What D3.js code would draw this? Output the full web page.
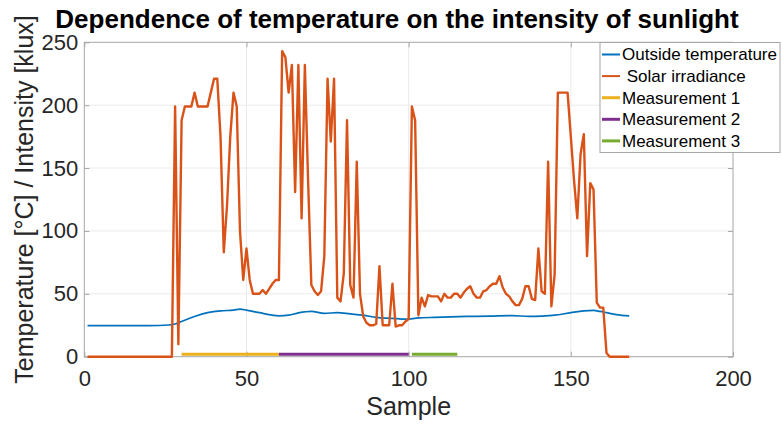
<!DOCTYPE html>
<meta charset="utf-8">
<script src="https://d3js.org/d3.v7.min.js"></script>
<style>
  body { margin: 0; background: #fff; }
  text { font-family: "Liberation Sans", Arial, sans-serif; }
</style>
<div id="chart"></div>
<script>

  // solar irradiance, one value per sample (1..168)
  var solar = [
    0,0,0,0,0,0,0,0,0,0, 0,0,0,0,0,0,0,0,0,0, 0,0,0,0,0,0,0,
    199,10,188,199,199,199,210,199,199,199,199,210,221,221,175,83,120,175,210,199,100,61,86,61,
    50,50,50,53,50,54,58,61,61,243,238,210,232,131,232,110,232,140,57,52,49,52,80,221,171,221,
    47,44,66,188,57,47,155,50,32,27,25,25,26,72,25,25,25,58,24,25,25,28,30,199,188,33,
    47,40,49,48,48,48,44,50,47,47,50,50,47,51,54,56,50,47,47,52,53,56,58,58,64,55,
    50,48,44,41,41,46,56,56,46,45,86,52,50,155,40,65,210,210,210,210,175,140,110,161,177,80,
    138,133,43,39,39,3,0,0,0,0,0,0,0
  ];

  // outside temperature, read at these samples
  var tempSamples = [1, 10, 20, 26, 28, 30, 34, 38, 42, 46, 48, 50, 54, 58, 60, 63, 66, 70, 74, 78,
                     82, 86, 90, 95, 99, 103, 108, 118, 125, 132, 137, 141, 145, 150, 154, 157, 159, 161, 164, 168];
  var tempValues  = [24.7, 24.7, 24.7, 25.2, 26, 28, 32, 35, 36.5, 37, 37.8, 37, 35, 33, 32.5, 33, 34.8, 36, 34.5, 35,
                     34, 33, 31.3, 30.5, 29.8, 30.8, 31.3, 32, 32.3, 32.7, 32, 32.3, 33, 35, 36.4, 36.8, 36, 35, 33.5, 32.4];

  // measurement periods (start, end sample)
  var measNames  = ["Measurement 1", "Measurement 2", "Measurement 3"];
  var measStart  = [30, 60, 101];
  var measEnd    = [60, 100, 115];
  var measLevel  = 2;

  var xTicks = [0, 50, 100, 150, 200];
  var yTicks = [0, 50, 100, 150, 200, 250];

  var colors = {temp: "#0072BD", solar: "#D95319", meas: ["#EDB120", "#7E2F8E", "#77AC30"]};

  var W = 782, H = 424;
  var m = {left: 84.3, right: 733, top: 42.3, bottom: 356.7};

  var svg = d3.select("#chart").append("svg")
      .attr("width", W).attr("height", H);

  svg.append("rect").attr("width", W).attr("height", H).attr("fill", "#fff");

  var x = d3.scaleLinear().domain([0, 200]).range([m.left, m.right]);
  var y = d3.scaleLinear().domain([0, 250]).range([m.bottom, m.top]);

  // grid
  svg.append("g").selectAll("line").data(xTicks.slice(1, -1)).enter().append("line")
      .attr("x1", d => x(d)).attr("x2", d => x(d))
      .attr("y1", m.top).attr("y2", m.bottom)
      .attr("stroke", "#ebebeb").attr("stroke-width", 1);
  svg.append("g").selectAll("line").data(yTicks.slice(1, -1)).enter().append("line")
      .attr("x1", m.left).attr("x2", m.right)
      .attr("y1", d => y(d)).attr("y2", d => y(d))
      .attr("stroke", "#ebebeb").attr("stroke-width", 1);

  // axes
  svg.append("g")
      .attr("transform", "translate(0," + m.bottom + ")")
      .call(d3.axisBottom(x).tickValues(xTicks).tickSize(-5).tickPadding(14));
  svg.append("g")
      .attr("transform", "translate(" + m.left + ",0)")
      .call(d3.axisLeft(y).tickValues(yTicks).tickSize(-5).tickPadding(6));
  svg.append("g")
      .attr("transform", "translate(0," + m.top + ")")
      .call(d3.axisTop(x).tickValues(xTicks).tickSize(-5).tickFormat(""));
  svg.append("g")
      .attr("transform", "translate(" + m.right + ",0)")
      .call(d3.axisRight(y).tickValues(yTicks).tickSize(-5).tickFormat(""));

  svg.selectAll(".domain").remove();
  svg.selectAll(".tick line").attr("stroke", "#a6a6a6");
  svg.selectAll(".tick text").attr("fill", "#262626").style("font-size", "22px")
      .style("font-family", "'Liberation Sans', Arial, sans-serif");

  svg.append("rect")
      .attr("x", m.left).attr("y", m.top)
      .attr("width", m.right - m.left).attr("height", m.bottom - m.top)
      .attr("fill", "none").attr("stroke", "#a6a6a6").attr("stroke-width", 1);

  // lines
  var tempLine = d3.line()
      .x((d, i) => x(tempSamples[i]))
      .y(d => y(d))
      .curve(d3.curveMonotoneX);
  svg.append("path").datum(tempValues)
      .attr("d", tempLine)
      .attr("fill", "none").attr("stroke", colors.temp).attr("stroke-width", 1.7);

  var solarLine = d3.line()
      .x((d, i) => x(i + 1))
      .y(d => y(d));
  svg.append("path").datum(solar)
      .attr("d", solarLine)
      .attr("fill", "none").attr("stroke", colors.solar).attr("stroke-width", 2.4)
      .attr("stroke-linejoin", "round");

  svg.append("g").selectAll("line").data(measNames).enter().append("line")
      .attr("x1", (d, i) => x(measStart[i])).attr("x2", (d, i) => x(measEnd[i]))
      .attr("y1", y(measLevel)).attr("y2", y(measLevel))
      .attr("stroke", (d, i) => colors.meas[i]).attr("stroke-width", 3);

  // title and labels
  svg.append("text")
      .attr("x", 397).attr("y", 28)
      .attr("text-anchor", "middle")
      .style("font-size", "26px").style("font-weight", "bold")
      .text("Dependence of temperature on the intensity of sunlight");

  svg.append("text")
      .attr("x", (m.left + m.right) / 2).attr("y", 415)
      .attr("text-anchor", "middle")
      .attr("fill", "#262626")
      .style("font-size", "25px")
      .text("Sample");

  svg.append("text")
      .attr("transform", "translate(33," + (m.top + m.bottom) / 2 + ") rotate(-90)")
      .attr("text-anchor", "middle")
      .attr("fill", "#262626")
      .style("font-size", "25px")
      .text("Temperature [°C] / Intensity [klux]");

  // legend
  var legendNames = ["Outside temperature", " Solar irradiance"].concat(measNames);
  var legendColors = [colors.temp, colors.solar].concat(colors.meas);

  var legend = svg.append("g").attr("transform", "translate(600,42.5)");
  legend.append("rect")
      .attr("width", 180).attr("height", 110)
      .attr("fill", "#fff").attr("stroke", "#a6a6a6").attr("stroke-width", 1);

  legend.selectAll("line").data(legendNames).enter().append("line")
      .attr("x1", 2).attr("x2", 20)
      .attr("y1", (d, i) => 12 + i * 21.6).attr("y2", (d, i) => 12 + i * 21.6)
      .attr("stroke", (d, i) => legendColors[i])
      .attr("stroke-width", (d, i) => i < 2 ? 2 : 3);

  legend.selectAll("text").data(legendNames).enter().append("text")
      .attr("x", 22)
      .attr("y", (d, i) => 12 + i * 21.6)
      .attr("dy", "0.35em")
      .style("font-size", "17px")
      .style("white-space", "pre")
      .text(d => d);

</script>
